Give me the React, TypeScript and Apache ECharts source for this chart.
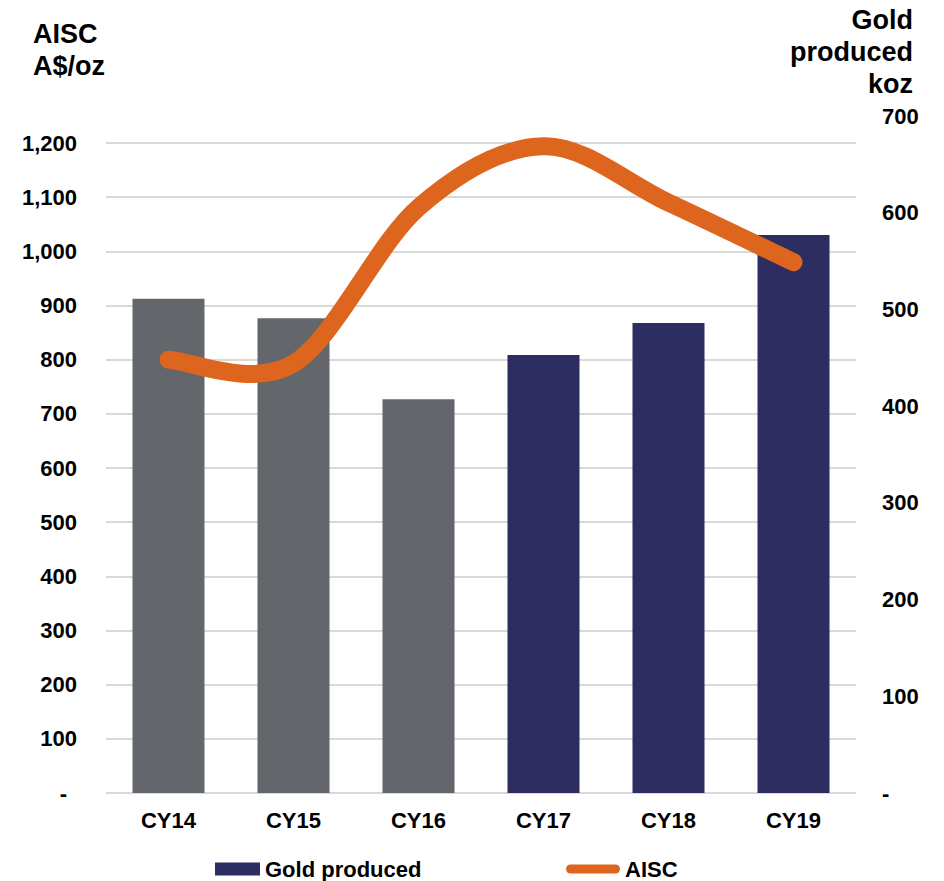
import React, { useEffect, useRef } from "react";
import * as echarts from "echarts";

// Calendar years on the category axis
const years = ["CY14", "CY15", "CY16", "CY17", "CY18", "CY19"];
// Gold produced, koz (right axis)
const goldProduced = [511, 491, 407, 453, 486, 577];
// All-in sustaining cost, A$/oz (left axis)
const aisc = [800, 793, 1081, 1194, 1090, 980];
// Left axis ticks
const aiscTicks = [0, 100, 200, 300, 400, 500, 600, 700, 800, 900, 1000, 1100, 1200];
// Right axis ticks
const kozTicks = [0, 100, 200, 300, 400, 500, 600, 700];
// First year drawn in the highlight colour
const highlightFrom = "CY17";

const FONT = "'Liberation Sans', Arial, sans-serif";
const GREY = "#63666A";
const NAVY = "#2E2D62";
const ORANGE = "#DD651E";
const LABEL = { fontFamily: FONT, fontWeight: "bold", fontSize: 22, color: "#000" };

const fmt = (v: number) => v.toLocaleString("en-US");

const titleLine = (text: string, x: number, y: number, align: string) => ({
  type: "text",
  x,
  y,
  style: {
    text,
    fontFamily: FONT,
    fontWeight: "bold",
    fontSize: 27,
    fill: "#000",
    align,
    verticalAlign: "middle",
  },
});

// Cardinal (Catmull-Rom) spline through the projected points, drawn as cubic Béziers
const splinePath = (pts: number[][]) => {
  const at = (j: number) => pts[Math.max(0, Math.min(pts.length - 1, j))];
  let d = `M${pts[0][0]},${pts[0][1]}`;
  for (let i = 1; i < pts.length; i++) {
    const p0 = at(i - 2);
    const p1 = at(i - 1);
    const p2 = at(i);
    const p3 = at(i + 1);
    const c1 = [p1[0] + (p2[0] - p0[0]) / 6, p1[1] + (p2[1] - p0[1]) / 6];
    const c2 = [p2[0] - (p3[0] - p1[0]) / 6, p2[1] - (p3[1] - p1[1]) / 6];
    d += ` C${c1[0]},${c1[1]} ${c2[0]},${c2[1]} ${p2[0]},${p2[1]}`;
  }
  return d;
};

export default function App() {
  const ref = useRef<HTMLDivElement>(null);

  useEffect(() => {
    if (!ref.current) return;
    const chart = echarts.init(ref.current, null, { renderer: "svg" });
    const hi = years.indexOf(highlightFrom);

    chart.setOption({
      animation: false,
      backgroundColor: "#ffffff",
      textStyle: { fontFamily: FONT },
      grid: { left: 106, right: 88, top: 116, bottom: 88, containLabel: false },
      legend: [
        {
          data: [{ name: "Gold produced", icon: "rect" }],
          left: 215,
          top: 858,
          padding: 0,
          itemWidth: 45,
          itemHeight: 13,
          textStyle: { ...LABEL },
          itemStyle: { color: NAVY },
        },
        {
          data: [
            {
              name: "AISC",
              icon: "path://M4.5,0 H49.5 A4.5,4.5 0 0 1 49.5,9 H4.5 A4.5,4.5 0 0 1 4.5,0 Z",
            },
          ],
          left: 566,
          top: 858,
          padding: 0,
          itemWidth: 54,
          itemHeight: 9,
          textStyle: { ...LABEL },
          itemStyle: { color: ORANGE },
        },
      ],
      xAxis: {
        type: "category",
        data: years,
        axisLine: { show: false },
        axisTick: { show: false },
        axisLabel: { margin: 16, ...LABEL },
      },
      yAxis: [
        {
          type: "value",
          min: aiscTicks[0],
          max: 1250,
          interval: 100,
          position: "left",
          axisLine: { show: false },
          axisTick: { show: false },
          splitLine: {
            show: true,
            showMaxLine: false,
            lineStyle: { color: "#D9D9D9", width: 2 },
          },
          axisLabel: {
            margin: 29,
            showMaxLabel: false,
            ...LABEL,
            formatter: (v: number) => (v === 0 ? "{d|-}" : fmt(v)),
            rich: { d: { ...LABEL, padding: [0, 10, 0, 0] } },
          },
        },
        {
          type: "value",
          min: kozTicks[0],
          max: kozTicks[kozTicks.length - 1],
          interval: 100,
          position: "right",
          axisLine: { show: false },
          axisTick: { show: false },
          splitLine: { show: false },
          axisLabel: {
            margin: 26,
            ...LABEL,
            formatter: (v: number) => (v === 0 ? "-" : fmt(v)),
          },
        },
      ],
      series: [
        {
          name: "Gold produced",
          type: "bar",
          yAxisIndex: 1,
          barWidth: 72,
          data: goldProduced.map((v, i) => ({
            value: v,
            itemStyle: { color: i >= hi ? NAVY : GREY },
          })),
        },
        {
          name: "AISC",
          type: "custom",
          coordinateSystem: "cartesian2d",
          yAxisIndex: 0,
          z: 5,
          itemStyle: { color: ORANGE },
          data: aisc.map((v, i) => [i, v]),
          renderItem: (params: any, api: any) => {
            if (params.dataIndex !== 0) return null;
            const pts = aisc.map((v, j) => api.coord([j, v]));
            return {
              type: "path",
              shape: { pathData: splinePath(pts) },
              style: {
                fill: "none",
                stroke: ORANGE,
                lineWidth: 18,
                lineCap: "round",
                lineJoin: "round",
              },
            };
          },
        },
      ],
      graphic: [
        titleLine("AISC", 33, 34, "left"),
        titleLine("A$/oz", 33, 66, "left"),
        titleLine("Gold", 913, 20, "right"),
        titleLine("produced", 913, 52, "right"),
        titleLine("koz", 913, 84, "right"),
      ],
    });

    return () => chart.dispose();
  }, []);

  return <div ref={ref} style={{ width: 944, height: 881, position: "absolute", left: 0, top: 0 }} />;
}
